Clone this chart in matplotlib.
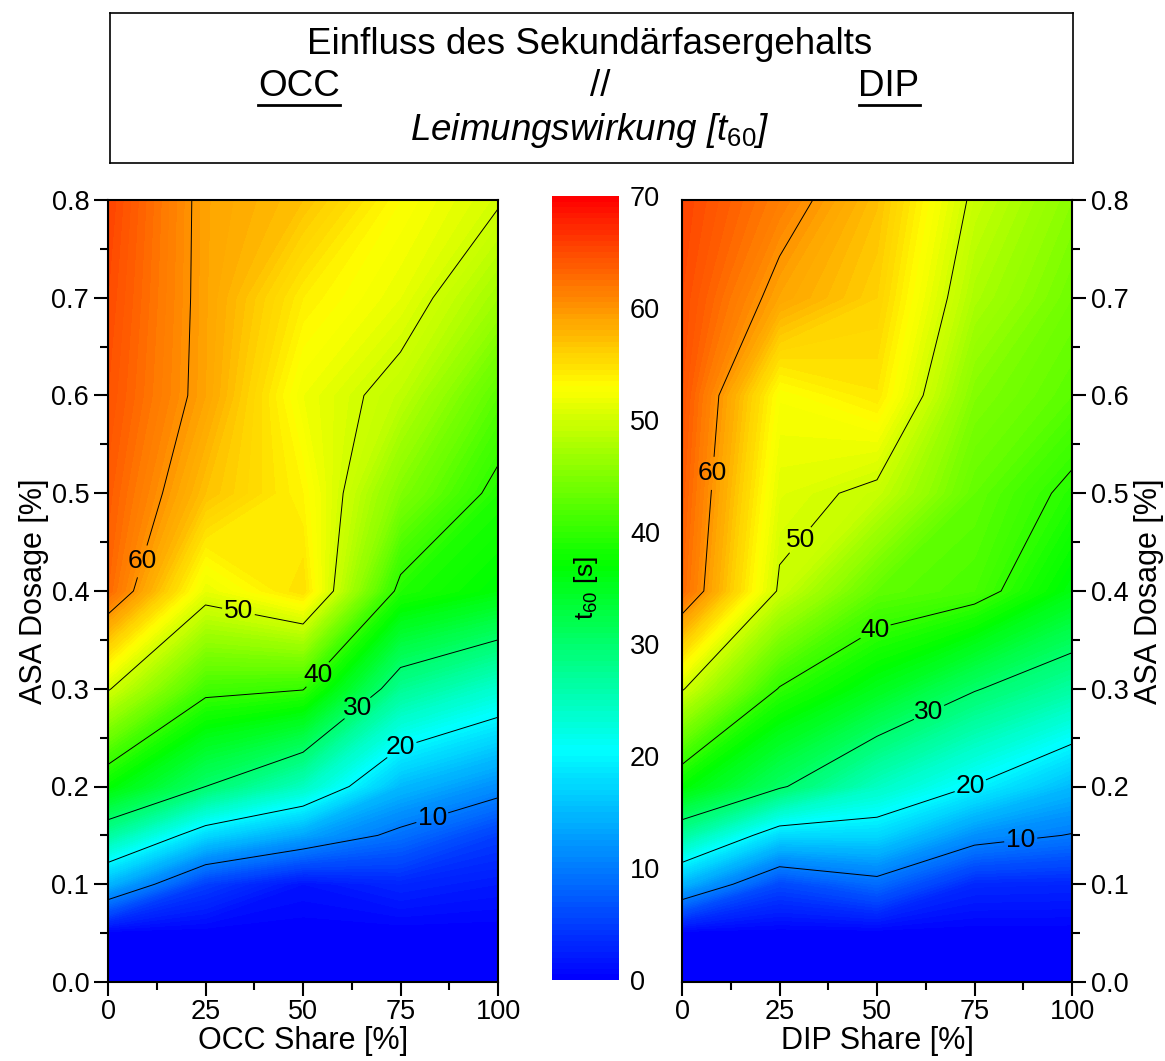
import numpy as np
import matplotlib
matplotlib.use('Agg')
import matplotlib.pyplot as plt
from matplotlib.colors import LinearSegmentedColormap
from matplotlib.ticker import MultipleLocator

plt.rcParams['font.family'] = ['Liberation Sans', 'DejaVu Sans']
plt.rcParams['mathtext.fontset'] = 'custom'
plt.rcParams['mathtext.rm'] = 'Liberation Sans'
plt.rcParams['mathtext.it'] = 'Liberation Sans:italic'

# ── Data: t60 [s] on grid (rows = ASA dosage, cols = secondary fibre share) ──
share = [0, 25, 50, 75, 100]
asa = [0.0, 0.05, 0.1, 0.15, 0.2, 0.3, 0.4, 0.5, 0.6, 0.7, 0.8]

t60_occ = [
    [0.0, 0.0, 0.0, 0.0, 0.0],
    [0.0, 0.0, 0.0, 0.0, 0.0],
    [14.6, 5.0, 1.5, 3.0, 2.0],
    [26.7, 17.5, 13.3, 9.0, 5.0],
    [37.0, 30.0, 24.5, 15.0, 11.5],
    [50.3, 41.0, 40.2, 27.5, 23.5],
    [63.0, 51.5, 55.0, 39.0, 36.5],
    [63.8, 57.0, 53.5, 45.0, 39.0],
    [64.5, 59.0, 52.0, 48.8, 42.5],
    [65.0, 59.1, 54.0, 51.5, 47.0],
    [65.5, 59.1, 57.0, 53.0, 50.3],
]

t60_dip = [
    [0.0, 0.0, 0.0, 0.0, 0.0],
    [0.0, 0.0, 0.0, 0.0, 0.0],
    [14.6, 5.8, 8.6, 3.2, 3.0],
    [26.7, 17.5, 17.4, 11.7, 9.8],
    [37.0, 30.5, 24.4, 19.8, 15.0],
    [50.3, 39.8, 35.3, 30.3, 26.5],
    [63.0, 49.6, 42.9, 41.5, 36.0],
    [63.8, 51.1, 49.3, 43.0, 39.2],
    [64.5, 52.6, 54.4, 45.1, 42.5],
    [65.0, 58.9, 56.0, 47.7, 44.0],
    [65.5, 61.5, 57.1, 49.4, 45.5],
]

line_levels = [10, 20, 30, 40, 50, 60]
cbar_ticks = [0, 10, 20, 30, 40, 50, 60, 70]

# label positions for the contour labels (share, dosage)
occ_label_pos = [(9, 0.43), (33, 0.37), (55, 0.31), (64, 0.28), (75, 0.24), (83, 0.17)]
dip_label_pos = [(9, 0.52), (34, 0.44), (51, 0.35), (64, 0.27), (74, 0.20), (87, 0.14)]

# ── Colormap (Origin-like rainbow) ──
cmap = LinearSegmentedColormap.from_list("origin_rainbow", [
    (0.0, "#0000FF"),
    (20.5 / 70, "#00FFFF"),
    (37.0 / 70, "#00FF00"),
    (53.0 / 70, "#FFFF00"),
    (1.0, "#FF0000"),
])
fill_levels = np.linspace(0, 70, 141)

W, H = 1165, 1061
fig = plt.figure(figsize=(W / 100, H / 100), dpi=100)


def px_axes(x0, y0, x1, y1):
    return fig.add_axes([x0 / W, 1 - y1 / H, (x1 - x0) / W, (y1 - y0) / H])


def draw_panel(ax, z, label_pos, xlabel, right=False):
    X, Y = np.meshgrid(share, asa)
    Z = np.array(z)
    cf = ax.contourf(X, Y, Z, levels=fill_levels, cmap=cmap, vmin=0, vmax=70)
    cs = ax.contour(X, Y, Z, levels=line_levels, colors="black", linewidths=0.7)
    labels = ax.clabel(cs, fmt="%d", fontsize=19, manual=label_pos,
                       inline=True, inline_spacing=2)
    for t in labels:
        t.set_rotation(0)
    ax.set_xlim(0, 100)
    ax.set_ylim(0, 0.8)
    ax.xaxis.set_major_locator(MultipleLocator(25))
    ax.xaxis.set_minor_locator(MultipleLocator(12.5))
    ax.yaxis.set_major_locator(MultipleLocator(0.1))
    ax.yaxis.set_minor_locator(MultipleLocator(0.05))
    ax.yaxis.set_major_formatter(plt.FormatStrFormatter("%.1f"))
    ax.tick_params(which="major", direction="out", length=10, width=1.5,
                   labelsize=19.5)
    ax.tick_params(axis="x", which="major", pad=2)
    ax.tick_params(which="minor", direction="out", length=6, width=1.5)
    ax.set_xlabel(xlabel, fontsize=22, labelpad=1)
    if right:
        ax.yaxis.tick_right()
        ax.yaxis.set_label_position("right")
        ax.set_ylabel("ASA Dosage [%]", fontsize=22, labelpad=4)
    else:
        ax.set_ylabel("ASA Dosage [%]", fontsize=22, labelpad=2)
    for s in ax.spines.values():
        s.set_linewidth(1.5)
    return cf


ax_l = px_axes(108, 200, 498, 982)
cf = draw_panel(ax_l, t60_occ, occ_label_pos, "OCC Share [%]")
ax_r = px_axes(682, 200, 1072, 982)
draw_panel(ax_r, t60_dip, dip_label_pos, "DIP Share [%]", right=True)

# ── Colour bar ──
cax = px_axes(552, 196, 619, 980)
cb = fig.colorbar(cf, cax=cax, ticks=cbar_ticks)
cb.outline.set_visible(False)
cax.tick_params(length=0, labelsize=19.5, pad=8)
cax.text(0.5, 0.5, r"t$_{60}$ [s]", transform=cax.transAxes, rotation=90,
         ha="center", va="center", fontsize=19)

# ── Title box ──
tax = px_axes(110, 13, 1073, 163)
tax.set_xlim(110, 1073)
tax.set_ylim(163, 13)
tax.set_xticks([])
tax.set_yticks([])
for s in tax.spines.values():
    s.set_linewidth(1.2)
tax.text(590, 45, "Einfluss des Sekundärfasergehalts", ha="center",
         va="center", fontsize=26.5)
tax.text(299, 87, "OCC", ha="center", va="center", fontsize=26.5)
tax.text(600, 87, "//", ha="center", va="center", fontsize=26.5)
tax.text(889, 87, "DIP", ha="center", va="center", fontsize=26.5)
tax.plot([258, 340], [105, 105], color="black", lw=2)
tax.plot([859, 920], [105, 105], color="black", lw=2)
tax.text(590, 130, r"Leimungswirkung [t$_{\mathit{60}}$]", ha="center",
         va="center", fontsize=26.5, style="italic")

plt.savefig("out.png", dpi=100)
plt.close()
print("Saved: out.png")
